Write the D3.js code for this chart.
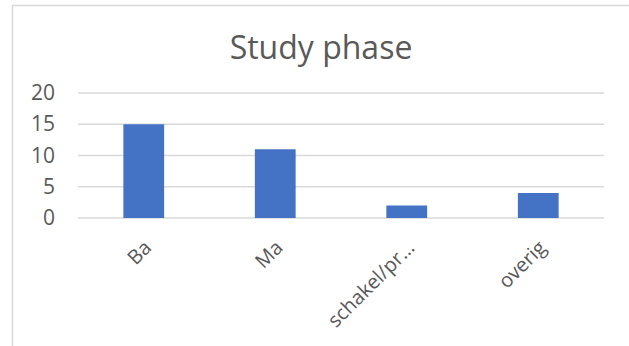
<!DOCTYPE html>
<html>
<head>
<meta charset="utf-8">
<script src="https://cdn.jsdelivr.net/npm/d3@7"></script>
<style>
  html, body { margin: 0; padding: 0; background: #fff; }
  svg { display: block; }
  text { font-family: "Open Sans", "Noto Sans", sans-serif; fill: #595959; }
</style>
</head>
<body>
<svg id="chart" width="629" height="346"></svg>
<script>
// Study phase counts
const categories = ["Ba", "Ma", "schakel/pr…", "overig"];
const counts = [15, 11, 2, 4];
const yTicks = [0, 5, 10, 15, 20];
const title = "Study phase";

const svg = d3.select("#chart");
const W = 629, H = 346;
const plot = { left: 78, right: 604, top: 93, bottom: 218 };

// chart area frame
svg.append("rect")
  .attr("x", 12.5).attr("y", 5.5)
  .attr("width", W).attr("height", H)
  .attr("fill", "#fff")
  .attr("stroke", "#d9d9d9").attr("stroke-width", 1.5);

const x = d3.scaleBand()
  .domain(categories)
  .range([plot.left, plot.right])
  .paddingInner(0.69)
  .paddingOuter(0.345);

const y = d3.scaleLinear()
  .domain([0, 20])
  .range([plot.bottom, plot.top]);

// horizontal gridlines
svg.append("g")
  .selectAll("line")
  .data(yTicks)
  .join("line")
  .attr("x1", plot.left).attr("x2", plot.right)
  .attr("y1", d => y(d)).attr("y2", d => y(d))
  .attr("stroke", "#d9d9d9").attr("stroke-width", 1.5);

// y axis labels
const yAxis = d3.axisLeft(y).tickValues(yTicks).tickSize(0).tickPadding(23);
svg.append("g")
  .attr("transform", `translate(${plot.left},0)`)
  .call(yAxis)
  .call(g => g.select(".domain").remove())
  .call(g => g.selectAll("text")
    .attr("fill", "#595959")
    .style("font-family", "'Open Sans', 'Noto Sans', sans-serif")
    .style("font-size", "21px"));

// bars
svg.append("g")
  .selectAll("rect")
  .data(categories.map((c, i) => ({ c, v: counts[i] })))
  .join("rect")
  .attr("x", d => x(d.c))
  .attr("y", d => y(d.v))
  .attr("width", x.bandwidth())
  .attr("height", d => y(0) - y(d.v))
  .attr("fill", "#4472c4");

// x axis labels, rotated
const xAxis = d3.axisBottom(x).tickSize(0).tickPadding(0);
svg.append("g")
  .attr("transform", `translate(0,${plot.bottom})`)
  .call(xAxis)
  .call(g => g.select(".domain").remove())
  .call(g => g.selectAll("text")
    .attr("fill", "#595959")
    .style("font-family", "'Open Sans', 'Noto Sans', sans-serif")
    .style("font-size", "20px")
    .attr("text-anchor", "end")
    .attr("dy", "0.35em")
    .attr("transform", "translate(4,26) rotate(-45)"));

// title
svg.append("text")
  .attr("x", 321).attr("y", 59)
  .attr("text-anchor", "middle")
  .style("font-size", "32px")
  .text(title);
</script>
</body>
</html>
